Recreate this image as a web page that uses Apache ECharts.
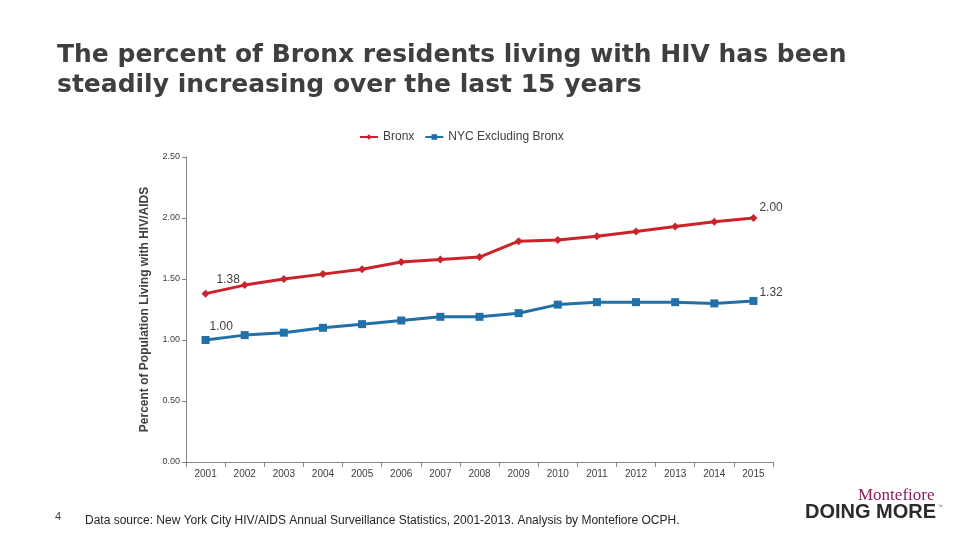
<!DOCTYPE html>
<html><head><meta charset="utf-8">
<script src="https://cdn.jsdelivr.net/npm/echarts@6/dist/echarts.min.js"></script>
<style>html,body{margin:0;padding:0;background:#fff}#c{width:960px;height:540px}</style>
</head><body><div id="c"></div>
<script>
var years = ['2001','2002','2003','2004','2005','2006','2007','2008','2009','2010','2011','2012','2013','2014','2015'];
var bronx = [1.38,1.45,1.50,1.54,1.58,1.64,1.66,1.68,1.81,1.82,1.85,1.89,1.93,1.97,2.00];
var nycExBronx = [1.00,1.04,1.06,1.10,1.13,1.16,1.19,1.19,1.22,1.29,1.31,1.31,1.31,1.30,1.32];
var yTicks = [0, 0.5, 1, 1.5, 2, 2.5];

var chart = echarts.init(document.getElementById('c'), null, {renderer:'canvas'});
chart.setOption({
  animation:false,
  textStyle:{fontFamily:'Liberation Sans'},
  title:{
    text:'The percent of Bronx residents living with HIV has been\nsteadily increasing over the last 15 years',
    left:52, top:35,
    textStyle:{fontSize:25, fontWeight:'bold', color:'#3f3f3f', lineHeight:30, fontFamily:'DejaVu Sans'}
  },
  legend:{
    top:126, left:354,
    itemWidth:18, itemHeight:7, itemGap:10,
    textStyle:{fontSize:12, color:'#404040'},
    data:['Bronx','NYC Excluding Bronx']
  },
  grid:{left:186, right:187, top:157, bottom:78},
  xAxis:{
    type:'category', data:years, boundaryGap:true,
    axisLine:{lineStyle:{color:'#868686'}},
    axisTick:{show:true, lineStyle:{color:'#868686'}},
    axisLabel:{fontSize:10, color:'#404040', margin:7}
  },
  yAxis:{
    type:'value', min:0, max:2.5, interval:0.5,
    name:'Percent of Population Living with HIV/AIDS',
    nameLocation:'middle', nameGap:35, nameRotate:90,
    nameTextStyle:{fontSize:12, fontWeight:'bold', color:'#404040'},
    axisLine:{show:true, lineStyle:{color:'#868686'}},
    axisTick:{show:true, lineStyle:{color:'#868686'}, length:4},
    splitLine:{show:false},
    axisLabel:{fontSize:9, color:'#404040', margin:6, formatter:function(v){return v.toFixed(2);}}
  },
  series:[
    {name:'Bronx', type:'line', data:bronx, symbol:'diamond', symbolSize:8,
     itemStyle:{color:'#cc2229'}, lineStyle:{width:3, color:'#cc2229'},
     label:{show:true, color:'#404040', fontSize:12,
       formatter:function(p){return (p.dataIndex===0||p.dataIndex===14)? p.value.toFixed(2):'';},
       position:'right'},
     labelLayout:function(p){ if(p.dataIndex===0) return {dx:2, dy:-14}; return {dx:-3, dy:-10}; }
    },
    {name:'NYC Excluding Bronx', type:'line', data:nycExBronx, symbol:'rect', symbolSize:8,
     itemStyle:{color:'#2170a9'}, lineStyle:{width:3, color:'#2170a9'},
     label:{show:true, color:'#404040', fontSize:12,
       formatter:function(p){return (p.dataIndex===0||p.dataIndex===14)? p.value.toFixed(2):'';},
       position:'right'},
     labelLayout:function(p){ if(p.dataIndex===0) return {dx:-5, dy:-13}; return {dx:-3, dy:-8}; }
    }
  ],
  graphic:[
    {type:'text', left:55, top:511, style:{text:'4', fontSize:11, fill:'#404040', fontFamily:'Liberation Sans'}},
    {type:'text', left:85, top:515, style:{text:'Data source: New York City HIV/AIDS Annual Surveillance Statistics, 2001-2013. Analysis by Montefiore OCPH.', fontSize:12, fill:'#262626', fontFamily:'Liberation Sans'}},
    {type:'text', left:858, top:487, style:{text:'Montefiore', fontSize:17, fill:'#8b1d5a', fontFamily:'Liberation Serif'}},
    {type:'text', left:805, top:502, style:{text:'DOING MORE', fontSize:20, fontWeight:'bold', fill:'#2b2b2b', fontFamily:'Liberation Sans'}},
    {type:'text', left:938, top:504, style:{text:'™', fontSize:5, fill:'#666'}}
  ]
});
</script></body></html>
